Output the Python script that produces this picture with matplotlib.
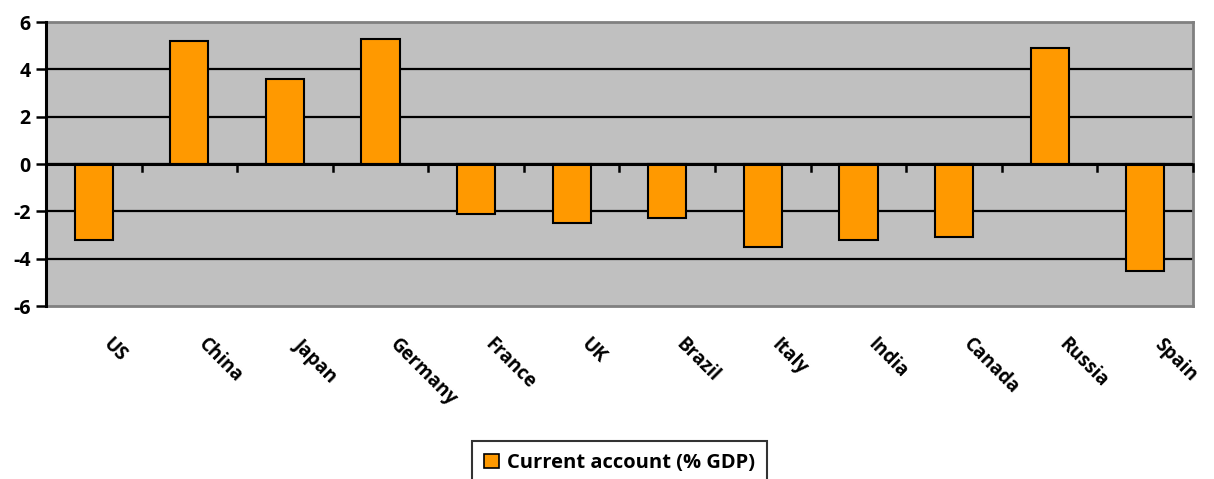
import matplotlib
matplotlib.use("Agg")
import matplotlib.pyplot as plt
from matplotlib.patches import Patch

countries = ["US", "China", "Japan", "Germany", "France", "UK",
             "Brazil", "Italy", "India", "Canada", "Russia", "Spain"]
current_account = [-3.2, 5.2, 3.6, 5.3, -2.1, -2.5,
                   -2.3, -3.5, -3.2, -3.1, 4.9, -4.5]
y_ticks = [-6, -4, -2, 0, 2, 4, 6]
series_name = "Current account (% GDP)"

plt.rcParams['font.family'] = ['Open Sans', 'DejaVu Sans']
plt.rcParams['font.weight'] = 'bold'

fig = plt.figure(figsize=(12.14, 4.79), dpi=100)
ax = fig.add_axes([46 / 1214, 1 - 306 / 479, (1193 - 46) / 1214, (306 - 22) / 479])
ax.set_facecolor('#C0C0C0')

x = list(range(len(countries)))
ax.bar(x, current_account, width=0.4, color='#FF9900', edgecolor='black',
       linewidth=1.5, zorder=3)

ax.set_xlim(-0.5, len(countries) - 0.5)
ax.set_ylim(-6, 6)
ax.set_yticks(y_ticks)
ax.set_yticklabels([str(v) for v in y_ticks], fontsize=14, fontweight='bold')
ax.tick_params(axis='y', length=7, width=1.8, pad=4, color='black')
ax.set_xticks([])

# horizontal gridlines
for v in y_ticks[1:-1]:
    ax.axhline(v, color='black', linewidth=1.6, zorder=1)
# category axis along zero with boundary tick marks
ax.axhline(0, color='black', linewidth=2.2, zorder=4)
for b in range(len(countries)):
    ax.plot([b + 0.5, b + 0.5], [0, -0.28], color='black', linewidth=1.8,
            zorder=4, clip_on=False)

for side in ['top', 'right', 'bottom']:
    ax.spines[side].set_color('#808080')
    ax.spines[side].set_linewidth(2)
ax.spines['left'].set_color('black')
ax.spines['left'].set_linewidth(2.2)
ax.spines['left'].set_zorder(5)

# rotated category labels below the plot area
for i, name in enumerate(countries):
    ax.text(i + 0.2, -0.1, name, transform=ax.get_xaxis_transform(),
            rotation=-45, rotation_mode='anchor', ha='left', va='top',
            fontsize=13.5, fontweight='bold')

handle = Patch(facecolor='#FF9900', edgecolor='black', linewidth=1.2)
leg = fig.legend([handle], [series_name], loc='upper center',
                 bbox_to_anchor=(619.5 / 1214, 1 - 441 / 479),
                 frameon=True, fancybox=False, edgecolor='black',
                 prop={'size': 14.5, 'weight': 'bold'},
                 handlelength=0.75, handleheight=0.75, handletextpad=0.4,
                 borderpad=0.6, borderaxespad=0)
leg.get_frame().set_linewidth(1.5)

fig.savefig("out.png", dpi=100)
